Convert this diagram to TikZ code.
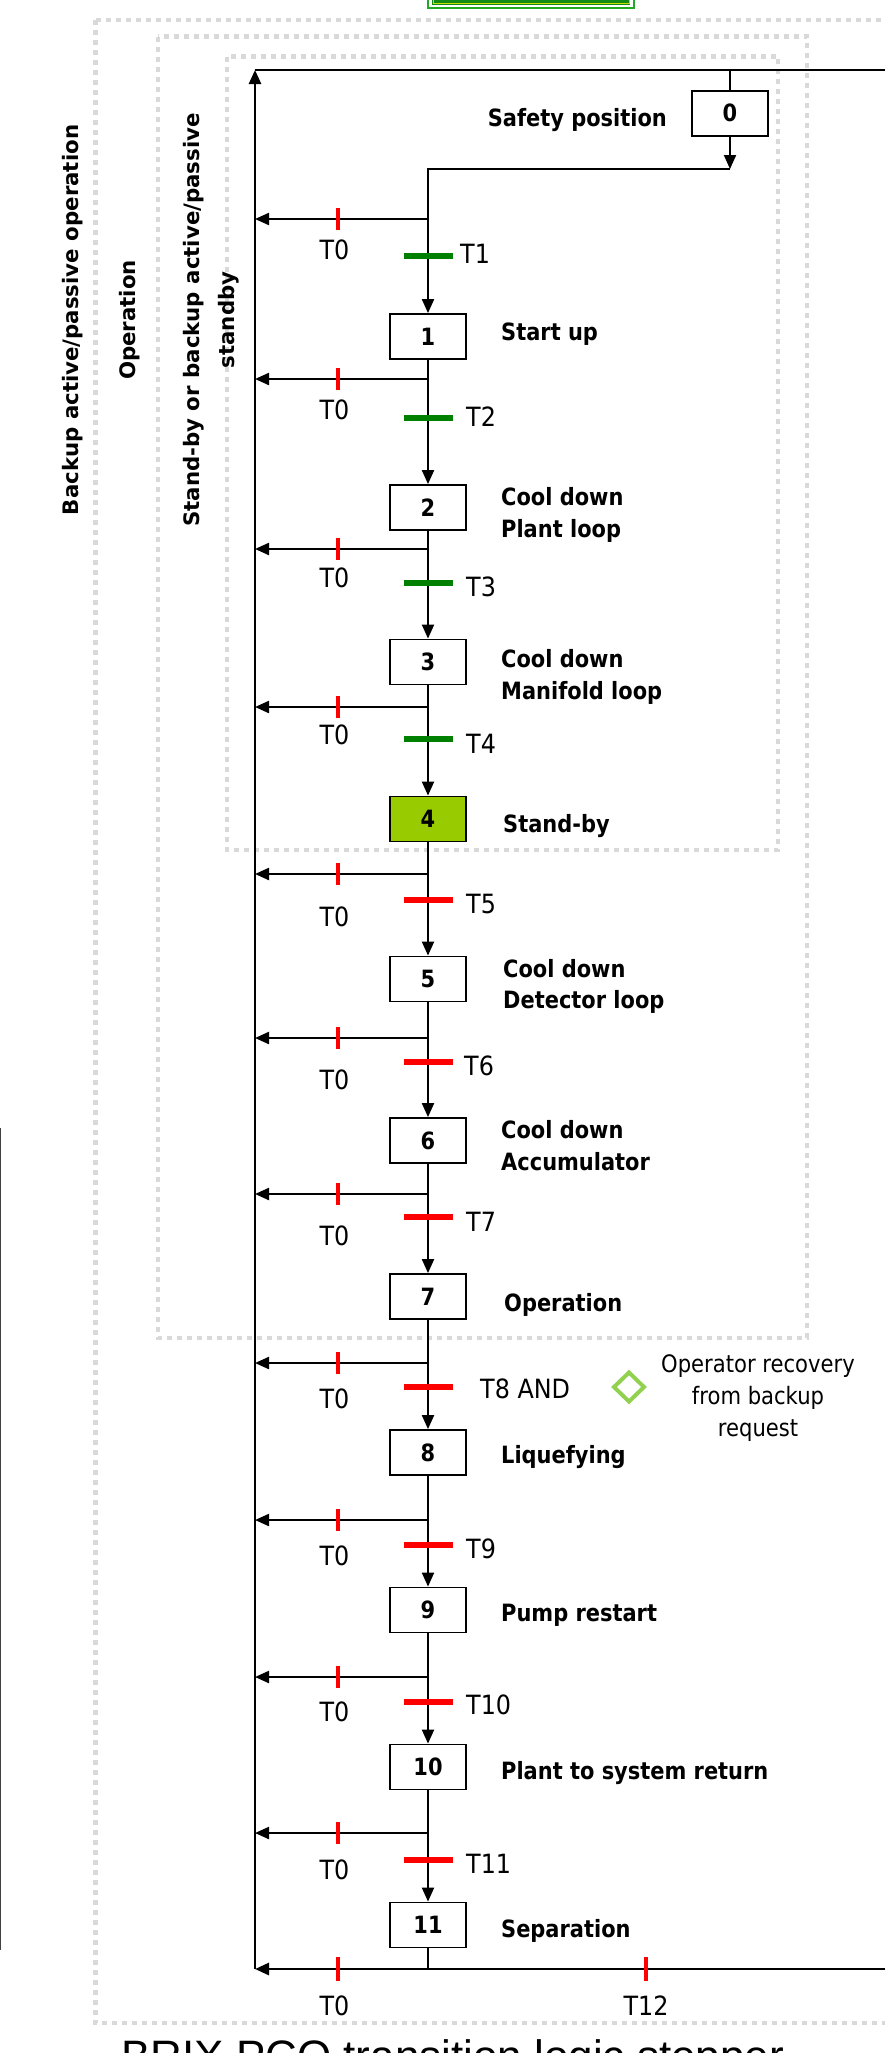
\documentclass[tikz,border=0pt]{standalone}
\usepackage{fontspec}
\setmainfont{DejaVu Sans}
\newfontfamily\condfont{DejaVu Sans}[FakeStretch=0.88]
\newfontfamily\tfont{DejaVu Sans}[FakeStretch=0.9]
\newfontfamily\capfont{Liberation Sans}
\usetikzlibrary{arrows.meta}
\definecolor{tgreen}{HTML}{008000}
\definecolor{tred}{HTML}{FF0000}
\definecolor{sbgreen}{HTML}{99CC00}
\definecolor{diag}{HTML}{92D050}
\definecolor{framegray}{HTML}{D9D9D9}
\definecolor{hdrgreen}{HTML}{22AA22}
\definecolor{hdrdark}{HTML}{138A13}
\definecolor{hdryellow}{HTML}{C8E000}
\begin{document}
\begin{tikzpicture}[x=1pt,y=-1pt,
  stepbox/.style={draw, fill=white, line width=1.8pt, minimum width=76pt, minimum height=45pt, inner sep=0pt, font=\condfont\bfseries\fontsize{23.8}{28}\selectfont},
  steplbl/.style={anchor=base west, inner sep=0pt, font=\condfont\bfseries\fontsize{23.8}{28}\selectfont},
  tlbl/.style={anchor=base west, inner sep=0pt, font=\tfont\fontsize{26.5}{31}\selectfont},
  t0lbl/.style={anchor=base, inner sep=0pt, font=\tfont\fontsize{26.5}{31}\selectfont},
  sidelbl/.style={rotate=90, inner sep=0pt, font=\bfseries\fontsize{21.3}{25}\selectfont},
  opl/.style={anchor=base, inner sep=0pt, font=\condfont\fontsize{24}{28}\selectfont},
  dotframe/.style={draw=framegray, line width=4.5pt, dash pattern=on 5pt off 5pt},
  arrhead/.style={-{Triangle[length=14pt,width=12pt]}},
  flowarrow/.style={line width=2pt, arrhead},
  brancharrow/.style={line width=2.2pt, arrhead},
  loopline/.style={line width=2.7pt},
  plainline/.style={line width=2pt},
  thinline/.style={line width=1.4pt},
  tbar/.style={line width=6pt},
  rtick/.style={draw=tred, line width=4pt},
]
\useasboundingbox (0,0) rectangle (885,2053);

% dotted frames
\draw[dotframe] (95.5,19.8) rectangle (930,2023);
\draw[dotframe] (158,36.7) rectangle (807,1338);
\draw[dotframe] (227,56.7) rectangle (778,850);

% header box (cut off at top)
\draw[draw=hdrgreen, line width=2pt, fill=white] (428,-20) rectangle (634,8);
\fill[hdrdark] (432,-20) rectangle (630,5.2);
\draw[hdryellow, line width=1pt] (433,-20) -- (433,3.6) -- (629,3.6) -- (629,-20);

% crop artifact at left edge
\draw[black!75, line width=2pt] (0,1128) -- (0,1950);

% side labels
\node[sidelbl] (lblA) at (73,320) {Backup active/passive operation};
\node[sidelbl] (lblB) at (129.5,320) {Operation};
\node[sidelbl] (lblC) at (194,320) {Stand-by or backup active/passive};
\node[sidelbl] (lblD) at (229,320) {standby};

% main loop
\coordinate (tl) at (255,70);
\coordinate (tr) at (900,70);
\coordinate (bl) at (255,1969);
\coordinate (br) at (900,1969);
\draw[loopline, arrhead] (bl) -- (tl);
\draw[loopline] (tl) -- (tr);
\draw[loopline, arrhead] (br) -- (bl);

% step boxes
\node[stepbox] (s0) at (730,113.3) {0};
\foreach \n/\y in {1/336.5,2/507.5,3/662,5/979,6/1140.5,7/1296.5,8/1452.5,9/1610,10/1767,11/1925}
  \node[stepbox] (s\n) at (428,\y) {\n};
\node[stepbox, fill=sbgreen] (s4) at (428,819) {4};

% safety position connections
\coordinate (j0) at (730,70);
\coordinate (k0) at (730,169);
\coordinate (k1) at (428,169);
\draw[plainline] (j0) -- (s0.north);
\draw[flowarrow] (s0.south) -- (k0);
\draw[flowarrow] (k0) -- (k1) -- (s1.north);

% column connections
\foreach \a/\b in {1/2,2/3,3/4,4/5,5/6,6/7,7/8,8/9,9/10,10/11}
  \draw[flowarrow] (s\a.south) -- (s\b.north);
\coordinate (bend) at (428,1969);
\draw[thinline] (s11.south) -- (bend);

% T0 branches
\foreach \i/\y in {0/219,1/379,2/549,3/707,4/874,5/1038,6/1194,7/1363,8/1520,9/1677,10/1833}{
  \coordinate (b\i) at (428,\y);
  \coordinate (m\i) at (255,\y);
  \draw[brancharrow] (b\i) -- (m\i);
  \draw[rtick] (337.5,\y) ++(0,-11) -- ++(0,22);
}
\draw[rtick] (337.5,1969) ++(0,-12) -- ++(0,24);
\draw[rtick] (646,1969) ++(0,-12) -- ++(0,24);

% T0 labels
\foreach \y in {259,419,587,744,926,1089,1245,1408,1565,1721,1879,2015}
  \node[t0lbl] (t0at\y) at (334.5,\y) {T0};
\node[t0lbl] (t12) at (646,2015) {T12};

% transition bars
\foreach \y/\c in {255.7/tgreen,418/tgreen,583/tgreen,739/tgreen,900/tred,1062/tred,1217/tred,1387/tred,1545/tred,1702/tred,1860/tred}
  \draw[tbar, draw=\c] (404,\y) -- (453,\y);

% transition labels
\node[tlbl] (T1) at (460,263) {T1};
\node[tlbl] (T2) at (466,426) {T2};
\node[tlbl] (T3) at (466,596) {T3};
\node[tlbl] (T4) at (466,753) {T4};
\node[tlbl] (T5) at (466,913) {T5};
\node[tlbl] (T6) at (464,1075) {T6};
\node[tlbl] (T7) at (466,1231) {T7};
\node[tlbl] (T8) at (480,1398) {T8 AND};
\node[tlbl] (T9) at (466,1558) {T9};
\node[tlbl] (T10) at (466,1714) {T10};
\node[tlbl] (T11) at (466,1873) {T11};

% operator recovery condition
\draw[diag, line width=4pt, line join=miter] (614,1387) -- (629,1372.5) -- (644,1387) -- (629,1401.5) -- cycle;
\node[opl] (op1) at (758,1372) {Operator recovery};
\node[opl] (op2) at (758,1404) {from backup};
\node[opl] (op3) at (758,1436) {request};

% step labels
\node[steplbl, anchor=base east] (L0) at (667,126) {Safety position};
\node[steplbl] (L1) at (501,340) {Start up};
\node[steplbl] (L2a) at (501,505) {Cool down};
\node[steplbl] (L2b) at (501,537) {Plant loop};
\node[steplbl] (L3a) at (501,667) {Cool down};
\node[steplbl] (L3b) at (501,699) {Manifold loop};
\node[steplbl] (L4) at (503,832) {Stand-by};
\node[steplbl] (L5a) at (503,977) {Cool down};
\node[steplbl] (L5b) at (503,1008) {Detector loop};
\node[steplbl] (L6a) at (501,1138) {Cool down};
\node[steplbl] (L6b) at (501,1170) {Accumulator};
\node[steplbl] (L7) at (504,1311) {Operation};
\node[steplbl] (L8) at (501,1463) {Liquefying};
\node[steplbl] (L9) at (501,1621) {Pump restart};
\node[steplbl] (L10) at (501,1779) {Plant to system return};
\node[steplbl] (L11) at (501,1937) {Separation};

% caption (cut off)
\node[anchor=base west, inner sep=0pt, font=\capfont\fontsize{44}{50}\selectfont] (cap) at (121,2071.5) {BRIX PCO transition logic stepper};
\end{tikzpicture}
\end{document}
